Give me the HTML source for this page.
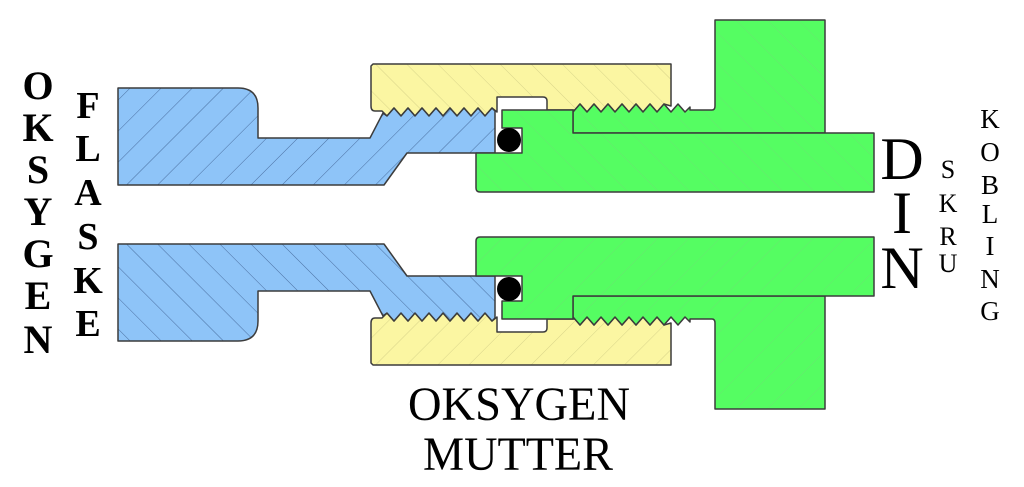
<!DOCTYPE html>
<html><head><meta charset="utf-8"><style>
html,body{margin:0;padding:0;background:#fff;}
svg{display:block}
text{font-family:"Liberation Serif",serif;fill:#000;text-anchor:middle}
</style></head><body>
<svg width="1024" height="487" viewBox="0 0 1024 487" xmlns="http://www.w3.org/2000/svg">
<defs>
<pattern id="hb" patternUnits="userSpaceOnUse" width="22" height="22" patternTransform="rotate(45)">
<rect width="22" height="22" fill="#8ec4f8"/><line x1="0" y1="0" x2="0" y2="22" stroke="#4a6fa0" stroke-width="1"/></pattern>
<pattern id="hy" patternUnits="userSpaceOnUse" width="22" height="22" patternTransform="rotate(-45)">
<rect width="22" height="22" fill="#fbf6a2"/><line x1="0" y1="0" x2="0" y2="22" stroke="#d8d48a" stroke-width="1"/></pattern>
<pattern id="hg" patternUnits="userSpaceOnUse" width="22" height="22" patternTransform="rotate(-45)">
<rect width="22" height="22" fill="#55fd62"/><line x1="0" y1="0" x2="0" y2="22" stroke="#66e86e" stroke-width="1"/></pattern>
<g id="half" stroke="#3c3c3c" stroke-width="1.5" stroke-linejoin="round">
<path fill="url(#hy)" d="M373,64 H671 V106 L664,104 L657,112 L650,104 L643,112 L636,104 L629,112 L622,104 L615,112 L608,104 L601,112 L594,104 L587,112 L580,104 L575,110 H547 V101 Q547,97 543,97 H497 V112 L492,108 L485,116 L478,108 L471,116 L464,108 L457,116 L450,108 L443,116 L436,108 L429,116 L422,108 L415,116 L408,108 L401,116 L394,108 L387,116 L382,111 L375,111 Q371,111 371,106 V66 Z"/>
<path fill="url(#hb)" d="M118,88 H238 Q258,88 258,108 V138 H370 L383,113 L387,116 L394,108 L401,116 L408,108 L415,116 L422,108 L429,116 L436,108 L443,116 L450,108 L457,116 L464,108 L471,116 L478,108 L485,116 L492,108 L495,111 V153 H407 L384,185 H118 Z"/>
<path fill="url(#hg)" d="M573,133 V112 L580,104 L587,112 L594,104 L601,112 L608,104 L615,112 L622,104 L629,112 L636,104 L643,112 L650,104 L657,112 L664,104 L671,112 L678,104 L685,112 L690,107 V110 H712 Q715,110 715,106 V20 H825 V133 Z"/>
<path fill="url(#hg)" d="M502,110 H573 V133 H874 V192 H480 Q476,192 476,188 V153 H522 V128 H502 Z"/>
<circle cx="509" cy="140" r="12" fill="#000" stroke="none"/>
</g>
</defs>
<use href="#half"/>
<use href="#half" transform="translate(0,429) scale(1,-1)"/>
<g font-weight="bold" font-size="40">
<text x="38" y="99">O</text><text x="38" y="141">K</text><text x="38" y="183">S</text><text x="38" y="225">Y</text><text x="38" y="267">G</text><text x="38" y="309">E</text><text x="38" y="353">N</text>
</g>
<g font-weight="bold" font-size="38">
<text x="88" y="118">F</text><text x="88" y="161">L</text><text x="88" y="205">A</text><text x="88" y="249">S</text><text x="88" y="293">K</text><text x="88" y="336">E</text>
</g>
<g font-size="60">
<text x="902" y="179">D</text><text x="902" y="233">I</text><text x="902" y="288">N</text>
</g>
<g font-size="26">
<text x="948" y="178">S</text><text x="948" y="212">K</text><text x="948" y="245">R</text><text x="948" y="272">U</text>
</g>
<g font-size="27">
<text x="990" y="128">K</text><text x="990" y="161">O</text><text x="990" y="194">B</text><text x="990" y="223">L</text><text x="990" y="255">I</text><text x="990" y="288">N</text><text x="990" y="320">G</text>
</g>
<text x="519" y="420" font-size="48" textLength="222" lengthAdjust="spacingAndGlyphs">OKSYGEN</text>
<text x="518" y="470" font-size="48" textLength="190" lengthAdjust="spacingAndGlyphs">MUTTER</text>
</svg>
</body></html>
